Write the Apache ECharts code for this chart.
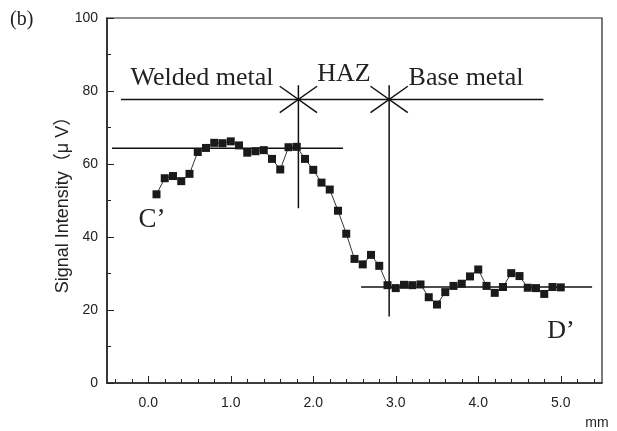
<!DOCTYPE html>
<html>
<head>
<meta charset="utf-8">
<script src="https://cdn.jsdelivr.net/npm/echarts@6/dist/echarts.min.js"></script>
<style>
  html, body { margin: 0; padding: 0; background: #fff; }
  #chart { width: 617px; height: 431px; }
</style>
</head>
<body>
<div id="chart"></div>
<script>
// 测点位置 (mm) 和信号强度 (μV)
const positions = [0.1, 0.2, 0.3, 0.4, 0.5, 0.6, 0.7, 0.8, 0.9, 1.0,
  1.1, 1.2, 1.3, 1.4, 1.5, 1.6, 1.7, 1.8, 1.9, 2.0,
  2.1, 2.2, 2.3, 2.4, 2.5, 2.6, 2.7, 2.8, 2.9, 3.0,
  3.1, 3.2, 3.3, 3.4, 3.5, 3.6, 3.7, 3.8, 3.9, 4.0,
  4.1, 4.2, 4.3, 4.4, 4.5, 4.6, 4.7, 4.8, 4.9, 5.0];
const signal = [51.7, 56.1, 56.7, 55.3, 57.3, 63.3, 64.4, 65.8, 65.7, 66.2,
  65.1, 63.1, 63.5, 63.8, 61.4, 58.5, 64.6, 64.7, 61.4, 58.4,
  54.9, 53.0, 47.2, 40.9, 34.0, 32.5, 35.1, 32.1, 26.8, 26.0,
  26.9, 26.8, 27.0, 23.5, 21.5, 24.9, 26.6, 27.2, 29.2, 31.1,
  26.6, 24.7, 26.3, 30.1, 29.3, 26.1, 26.0, 24.4, 26.3, 26.2];

// 坐标轴刻度
const xTickValues = [0, 1, 2, 3, 4, 5];
const xMinorValues = [-0.4, -0.2, 0.2, 0.4, 0.6, 0.8, 1.2, 1.4, 1.6, 1.8,
  2.2, 2.4, 2.6, 2.8, 3.2, 3.4, 3.6, 3.8, 4.2, 4.4, 4.6, 4.8, 5.2, 5.4];

// 辅助线 (区域划分)
const zoneLine = [[-0.33, 77.7], [4.79, 77.7]];
const weldLevel = [[-0.44, 64.3], [2.36, 64.3]];
const baseLevel = [[2.58, 26.3], [5.38, 26.3]];
const boundaryX = [1.82, 2.92];
const boundaryBottom = [47.9, 18.2];
const boundaryTop = 81.6;
const starDx = 0.226;
const starDy = 3.6;

const refStyle = { color: '#111', width: 1.5 };
function refSeries(data) {
  return {
    type: 'line',
    data: data,
    symbol: 'none',
    silent: true,
    animation: false,
    lineStyle: refStyle,
    z: 1
  };
}

let refs = [refSeries(zoneLine), refSeries(weldLevel), refSeries(baseLevel)];
boundaryX.forEach((bx, i) => {
  refs.push(refSeries([[bx, boundaryTop], [bx, boundaryBottom[i]]]));
  refs.push(refSeries([[bx - starDx, zoneLine[0][1] + starDy], [bx + starDx, zoneLine[0][1] - starDy]]));
  refs.push(refSeries([[bx - starDx, zoneLine[0][1] - starDy], [bx + starDx, zoneLine[0][1] + starDy]]));
});

const serif = "'Liberation Serif', 'Times New Roman', serif";
const sans = "'Liberation Sans', Arial, 'Noto Sans CJK JP', sans-serif";

let myChart = echarts.init(document.getElementById('chart'));
const option = {
  animation: false,
  backgroundColor: '#fff',
  grid: {
    left: 107,
    right: 15,
    top: 18,
    bottom: 48,
    show: true,
    borderColor: '#222',
    borderWidth: 1.2
  },
  xAxis: [
    {
      type: 'value',
      min: -0.5,
      max: 5.5,
      axisLine: { onZero: false, lineStyle: { color: '#222', width: 1.5 } },
      splitLine: { show: false },
      axisTick: { inside: true, length: 7, customValues: xTickValues, lineStyle: { color: '#222' } },
      axisLabel: {
        customValues: xTickValues,
        margin: 13,
        fontSize: 14,
        color: '#222',
        fontFamily: sans,
        formatter: v => v.toFixed(1)
      }
    },
    {
      type: 'value',
      min: -0.5,
      max: 5.5,
      position: 'bottom',
      axisLine: { show: false, onZero: false },
      splitLine: { show: false },
      axisTick: { inside: true, length: 4, customValues: xMinorValues, lineStyle: { color: '#222' } },
      axisLabel: { show: false }
    }
  ],
  yAxis: {
    type: 'value',
    min: 0,
    max: 100,
    interval: 20,
    name: 'Signal Intensity（μ V）',
    nameLocation: 'middle',
    nameGap: 35,
    nameMoveOverlap: false,
    nameTextStyle: { fontSize: 18, color: '#222', fontFamily: sans },
    axisLine: { show: true, onZero: false, lineStyle: { color: '#222', width: 1.5 } },
    splitLine: { show: false },
    axisTick: { inside: true, length: 7, lineStyle: { color: '#222' } },
    minorTick: { show: true, splitNumber: 2, length: 4, lineStyle: { color: '#222' } },
    axisLabel: { margin: 9, fontSize: 14, color: '#222', fontFamily: sans }
  },
  series: refs.concat([
    {
      type: 'line',
      data: positions.map((p, i) => [p, signal[i]]),
      symbol: 'rect',
      symbolSize: 8,
      itemStyle: { color: '#1a1a1a' },
      lineStyle: { color: '#333', width: 1 },
      z: 3
    }
  ]),
  graphic: [
    { type: 'text', left: 10, top: 10, style: { text: '(b)', fontSize: 20, fontFamily: serif, fill: '#222' } },
    { type: 'text', x: 202, y: 78, style: { text: 'Welded metal', fontSize: 26, fontFamily: serif, fill: '#222', align: 'center', verticalAlign: 'middle' } },
    { type: 'text', x: 344, y: 74, style: { text: 'HAZ', fontSize: 26, fontFamily: serif, fill: '#222', align: 'center', verticalAlign: 'middle' } },
    { type: 'text', x: 466, y: 78, style: { text: 'Base metal', fontSize: 26, fontFamily: serif, fill: '#222', align: 'center', verticalAlign: 'middle' } },
    { type: 'text', x: 152, y: 220, style: { text: 'C’', fontSize: 27, fontFamily: serif, fill: '#222', align: 'center', verticalAlign: 'middle' } },
    { type: 'text', x: 561, y: 331, style: { text: 'D’', fontSize: 26, fontFamily: serif, fill: '#222', align: 'center', verticalAlign: 'middle' } },
    { type: 'text', x: 597, y: 423, style: { text: 'mm', fontSize: 14, fontFamily: sans, fill: '#222', align: 'center', verticalAlign: 'middle' } }
  ]
};
myChart.setOption(option);
</script>
</body>
</html>
